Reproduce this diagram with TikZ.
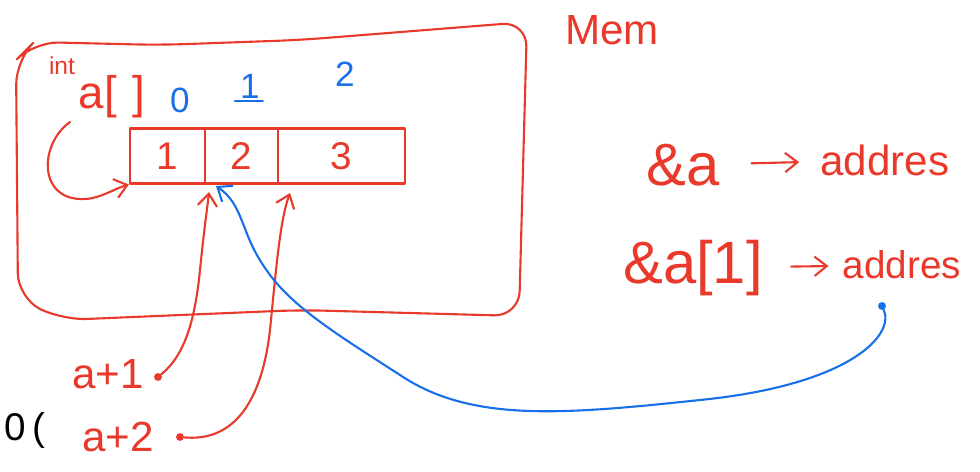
\documentclass[tikz,border=0pt]{standalone}
\usepackage{fontspec}
\setmainfont{Liberation Sans}
\usetikzlibrary{arrows.meta}
\definecolor{pred}{RGB}{232,57,42}
\definecolor{pblue}{RGB}{24,112,232}
\begin{document}
\begin{tikzpicture}[x=0.02cm,y=-0.02cm, line cap=round, line join=round,
  ink/.style={pred, line width=1.2pt},
  blueink/.style={pblue, line width=1.2pt},
  barbtip/.style={-{Straight Barb[length=7pt,width=11pt]}},
  cell/.style={draw=pred, line width=1.2pt, minimum height=1.1cm, inner sep=0pt, text=pred, font=\fontsize{22}{24}\selectfont},
  hand/.style={text=pred, inner sep=0pt},
  bluetext/.style={text=pblue, inner sep=0pt, font=\fontsize{20}{22}\selectfont},
  dotnode/.style={circle, fill=#1, inner sep=0pt, minimum size=4.5pt}
]
\useasboundingbox (0,0) rectangle (980,472);

% memory box
\draw[ink, rounded corners=14pt] (160,45) -- (300,40) -- (527,22) -- (519,316) -- (300,310) -- (62,320) -- (18,298) -- (16,60) -- (34,42) -- cycle;
\node[hand, font=\fontsize{24}{26}\selectfont] (mem) at (612,30) {Mem};

% array
\node[cell, minimum width=1.5cm]  (c1) at (167.5,156) {1};
\node[cell, minimum width=1.46cm] (c2) at (241.5,156) {2};
\node[cell, minimum width=2.54cm] (c3) at (341.5,156) {3};

% labels
\node[hand, font=\fontsize{14}{15}\selectfont] (int) at (62,66) {int};
\node[hand, font=\fontsize{26}{28}\selectfont] (aname) at (112,97) {a[\,\,]};
\node[bluetext] (i0) at (180,100) {0};
\node[bluetext] (i1) at (250,86) {1};
\draw[blueink] (i1.south west) ++(-5,3) -- ++(28,0);
\node[bluetext] (i2) at (345,74) {2};

% loop arrow from a[] to the array
\coordinate (s0) at (70,122);
\draw[ink, barbtip] (s0) .. controls (42,142) and (38,190) .. (72,198) .. controls (95,203) and (110,190) .. (c1.south west);

% a+1, a+2
\node[hand, font=\fontsize{24}{26}\selectfont] (ap1) at (108,374) {a+1};
\node[hand, font=\fontsize{24}{26}\selectfont] (ap2) at (118,437) {a+2};
\node[dotnode=pred] (dot1) at (158,377) {};
\node[dotnode=pred] (dot2) at (180,437) {};
\coordinate (t1) at (209,192);
\coordinate (t2) at (290,193);
\draw[ink, barbtip] (dot1) .. controls (185,355) and (195,320) .. (200,270) .. controls (204,230) and (207,210) .. (t1);
\draw[ink, barbtip] (dot2) .. controls (235,442) and (262,400) .. (270,330) .. controls (276,270) and (280,220) .. (t2);

\node[text=black, inner sep=0pt, font=\fontsize{22}{24}\selectfont] (oc) at (25,430) {0\,(};

% right side
\node[hand, font=\fontsize{34}{36}\selectfont] (amp1) at (683,165) {\&a};
\node[hand, font=\fontsize{24}{26}\selectfont] (addr1) at (885,160) {addres};
\draw[ink, barbtip, shorten <=18pt, shorten >=12pt] (amp1) -- (addr1);
\node[hand, font=\fontsize{34}{36}\selectfont] (amp2) at (693,268) {\&a[1]};
\node[hand, font=\fontsize{22}{24}\selectfont] (addr2) at (902,265) {addres};
\draw[ink, barbtip, shorten <=16pt, shorten >=8pt] (amp2) -- (addr2);

% blue pointer
\node[dotnode=pblue] (bdot) at (882,306) {};
\coordinate (t3) at (216,186);
\draw[blueink, barbtip] (bdot) .. controls (895,335) and (850,385) .. (700,400) .. controls (560,415) and (470,422) .. (400,375) .. controls (330,330) and (290,305) .. (265,268) .. controls (240,232) and (244,205) .. (t3);
\end{tikzpicture}
\end{document}
